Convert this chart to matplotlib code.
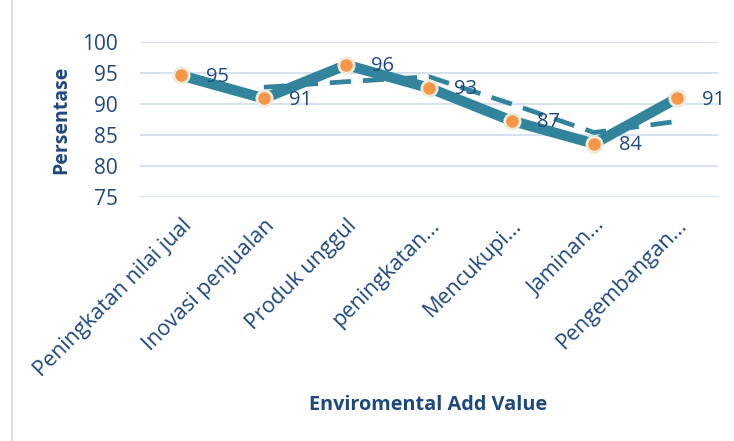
import matplotlib.pyplot as plt
from matplotlib.lines import Line2D

categories = ["Peningkatan nilai jual", "Inovasi penjualan", "Produk unggul",
              "peningkatan...", "Mencukupi...", "Jaminan...", "Pengembangan..."]
values = [94.6, 90.9, 96.3, 92.6, 87.3, 83.6, 90.9]
# dashed trend (2-period moving average)
trend_x = [1, 2, 3, 4, 5, 6]
trend_y = [92.7, 93.6, 94.4, 90.0, 85.4, 87.2]
yticks = [75, 80, 85, 90, 95, 100]

teal = "#31849B"
navy = "#1F497D"
grid = "#D6E2F0"

plt.rcParams["font.family"] = ["Open Sans", "DejaVu Sans"]

fig = plt.figure(figsize=(7.34, 4.41), dpi=100)
ax = fig.add_axes([140 / 734, 1 - 197 / 441, 578 / 734, 155 / 441])

x = list(range(len(categories)))
ax.plot(trend_x, trend_y, color=teal, lw=3.4, ls=(0, (4.5, 2.5)), zorder=2)
ax.plot(x, values, color=teal, lw=7.5, solid_joinstyle="miter", zorder=3,
        marker="o", markersize=11, markerfacecolor="#F79646",
        markeredgecolor="#EEEBDD", markeredgewidth=2)

for xi, v in zip(x, values):
    ax.annotate(f"{v:.0f}", (xi, v), xytext=(18, -1), textcoords="offset points",
                ha="left", va="center", fontsize=14.5, color=navy, zorder=4)

ax.set_xlim(-0.5, len(categories) - 0.5)
ax.set_ylim(75, 100)
ax.set_yticks(yticks)
ax.set_xticks(x)
ax.set_xticklabels(categories, rotation=45, ha="right", rotation_mode="anchor",
                   fontsize=15.5, color=navy)
ax.tick_params(axis="x", length=0, pad=13)
ax.tick_params(axis="y", length=0, pad=16, labelsize=15, labelcolor=navy)
ax.yaxis.grid(True, color=grid, lw=1.5)
ax.set_axisbelow(True)
for s in ax.spines.values():
    s.set_visible(False)

ax.set_ylabel("Persentase", fontsize=14, fontweight="bold", color=navy, labelpad=8)
fig.text(428 / 734, 1 - 405 / 441, "Enviromental Add Value", ha="center", va="center",
         fontsize=14.3, fontweight="bold", color=navy)

fig.add_artist(Line2D([12 / 734, 12 / 734], [0, 1], color="#D6E2F0", lw=1.5))

fig.savefig("out.png", dpi=100)
